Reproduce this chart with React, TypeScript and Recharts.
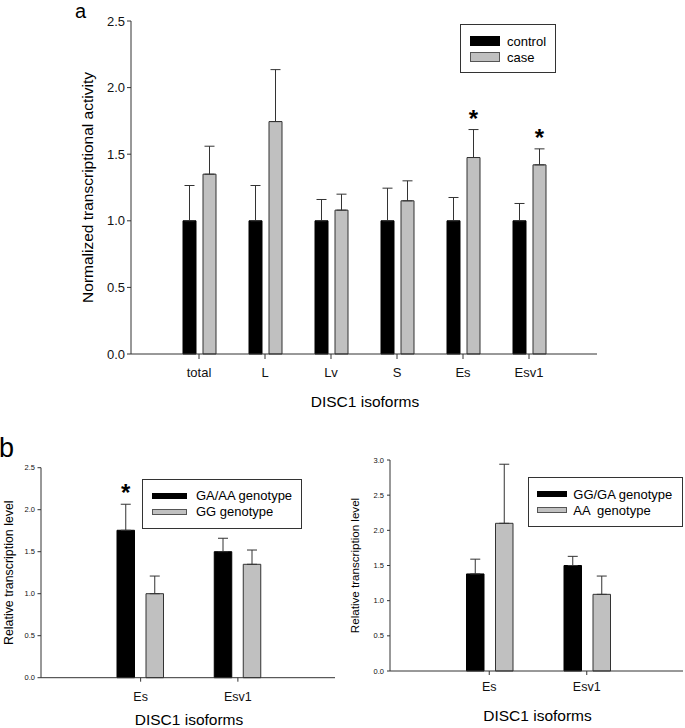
import React from 'react'
import { BarChart, Bar, XAxis, YAxis, ErrorBar, Legend, LabelList, Label } from 'recharts'

const FONT = '"Liberation Sans", Arial, Helvetica, sans-serif'
const BLACK = '#000000'
const GREY = '#c0c0c0'
const LINE = '#333333'

// panel a: control vs case
const isoformsA = ['total', 'L', 'Lv', 'S', 'Es', 'Esv1']
const controlMean = [1.0, 1.0, 1.0, 1.0, 1.0, 1.0]
const controlErr = [0.265, 0.265, 0.16, 0.245, 0.175, 0.13]
const caseMean = [1.35, 1.745, 1.08, 1.15, 1.475, 1.42]
const caseErr = [0.21, 0.39, 0.12, 0.15, 0.21, 0.12]
const caseSig = ['', '', '', '', '*', '*']
const ticksA = [0, 0.5, 1, 1.5, 2, 2.5]

// panel b, left: GA/AA vs GG
const isoformsB = ['Es', 'Esv1']
const gaAaMean = [1.755, 1.5]
const gaAaErr = [0.31, 0.16]
const gaAaSig = ['*', '']
const ggMean = [1.0, 1.35]
const ggErr = [0.21, 0.17]
const ticksBL = [0, 0.5, 1, 1.5, 2, 2.5]

// panel b, right: GG/GA vs AA
const ggGaMean = [1.38, 1.5]
const ggGaErr = [0.21, 0.13]
const aaMean = [2.1, 1.09]
const aaErr = [0.84, 0.26]
const ticksBR = [0, 0.5, 1, 1.5, 2, 2.5, 3]

const build = (cats: string[], m1: number[], e1: number[], m2: number[], e2: number[], sig1?: string[], sig2?: string[]) =>
  cats.map((name, i) => ({
    name,
    s1: m1[i],
    e1: [0, e1[i]],
    s2: m2[i],
    e2: [0, e2[i]],
    sig1: sig1 ? sig1[i] : '',
    sig2: sig2 ? sig2[i] : '',
  }))

const dataA = build(isoformsA, controlMean, controlErr, caseMean, caseErr, undefined, caseSig)
const dataBL = build(isoformsB, gaAaMean, gaAaErr, ggMean, ggErr, gaAaSig, undefined)
const dataBR = build(isoformsB, ggGaMean, ggGaErr, aaMean, aaErr)

// asterisk above the error bar cap
const star = (mean: number[], err: number[]) => (props: any) => {
  const { x, y, width, height, value, index } = props
  if (!value) return null
  const top = y + height - ((mean[index] + err[index]) / mean[index]) * height
  return (
    <text x={x + width / 2} y={top - 3} textAnchor="middle" fontSize={24} fontWeight="bold" fontFamily={FONT} fill="#000">
      {value}
    </text>
  )
}

const yTitle = (text: string, dx: number, size: number) => (props: any) => {
  const { x, y, height } = props.viewBox
  const cx = x + dx
  const cy = y + height / 2
  return (
    <text x={cx} y={cy} dy="0.35em" transform={`rotate(-90, ${cx}, ${cy})`} textAnchor="middle" fontSize={size} fontFamily={FONT} fill="#000">
      {text}
    </text>
  )
}

const xTitle = (text: string, dx: number, bottom: number, size: number) => (props: any) => {
  const { x, y, width, height } = props.viewBox
  return (
    <text x={x + width / 2 + dx} y={y + height - bottom} textAnchor="middle" fontSize={size} fontFamily={FONT} fill="#000">
      {text}
    </text>
  )
}

interface LegendCfg {
  left: number
  top: number
  width: number
  height: number
  swatchW: number
  swatchH: number
  gap: number
  pad: number
}

function LegendBox({ cfg, names }: { cfg: LegendCfg; names: string[] }) {
  const fills = [BLACK, GREY]
  return (
    <div
      style={{
        width: cfg.width,
        height: cfg.height,
        boxSizing: 'border-box',
        border: '1px solid #333',
        background: '#fff',
        paddingTop: 8,
        paddingLeft: cfg.pad,
        fontFamily: FONT,
        fontSize: 13,
        color: '#000',
      }}
    >
      {names.map((n, i) => (
        <div key={n} style={{ display: 'flex', alignItems: 'center', height: 16, whiteSpace: 'pre' }}>
          <span
            style={{
              display: 'inline-block',
              width: cfg.swatchW,
              height: cfg.swatchH,
              boxSizing: 'border-box',
              background: fills[i],
              border: `1px solid ${i === 0 ? BLACK : '#555'}`,
              marginRight: cfg.gap,
            }}
          />
          {n}
        </div>
      ))}
    </div>
  )
}

interface PanelProps {
  left: number
  top: number
  width: number
  height: number
  margin: { top: number; right: number; bottom: number; left: number }
  data: any[]
  names: string[]
  mean1: number[]
  err1: number[]
  mean2: number[]
  err2: number[]
  domain: [number, number]
  ticks: number[]
  yAxisWidth: number
  yTickSize: number
  yTickMargin: number
  yFont: number
  yLabel: string
  yLabelDx: number
  yLabelFont: number
  xHeight: number
  xPad: { left: number; right: number }
  xTickSize: number
  xTickMargin: number
  xFont: number
  xLabelDx: number
  xLabelBottom: number
  xLabelFont: number
  barSize: number
  barGap: number
  legend: LegendCfg
}

function Panel(p: PanelProps) {
  return (
    <div style={{ position: 'absolute', left: p.left, top: p.top }}>
      <BarChart width={p.width} height={p.height} data={p.data} margin={p.margin} barSize={p.barSize} barGap={p.barGap}>
        <XAxis
          dataKey="name"
          height={p.xHeight}
          padding={p.xPad}
          stroke={LINE}
          tickLine={{ stroke: LINE }}
          tickSize={p.xTickSize}
          tickMargin={p.xTickMargin}
          tick={{ fontSize: p.xFont, fill: '#111', fontFamily: FONT }}
        >
          <Label content={xTitle('DISC1 isoforms', p.xLabelDx, p.xLabelBottom, p.xLabelFont)} />
        </XAxis>
        <YAxis
          domain={p.domain}
          ticks={p.ticks}
          width={p.yAxisWidth}
          stroke={LINE}
          tickLine={{ stroke: LINE }}
          tickSize={p.yTickSize}
          tickMargin={p.yTickMargin}
          tickFormatter={(v: number) => v.toFixed(1)}
          tick={{ fontSize: p.yFont, fill: '#111', fontFamily: FONT }}
        >
          <Label content={yTitle(p.yLabel, p.yLabelDx, p.yLabelFont)} />
        </YAxis>
        <Legend
          layout="vertical"
          align="center"
          verticalAlign="middle"
          wrapperStyle={{ left: p.legend.left, top: p.legend.top, width: p.legend.width, height: p.legend.height }}
          content={() => <LegendBox cfg={p.legend} names={p.names} />}
        />
        <Bar dataKey="s1" name={p.names[0]} fill={BLACK} stroke={BLACK} strokeWidth={1} isAnimationActive={false}>
          <ErrorBar dataKey="e1" direction="y" width={5} stroke={LINE} strokeWidth={1} isAnimationActive={false} />
          <LabelList dataKey="sig1" content={star(p.mean1, p.err1)} />
        </Bar>
        <Bar dataKey="s2" name={p.names[1]} fill={GREY} stroke={LINE} strokeWidth={1} isAnimationActive={false}>
          <ErrorBar dataKey="e2" direction="y" width={5} stroke={LINE} strokeWidth={1} isAnimationActive={false} />
          <LabelList dataKey="sig2" content={star(p.mean2, p.err2)} />
        </Bar>
      </BarChart>
    </div>
  )
}

export default function App() {
  return (
    <div style={{ position: 'absolute', left: 0, top: 0, width: 685, height: 728, background: '#fff', fontFamily: FONT, overflow: 'hidden' }}>
      <div style={{ position: 'absolute', left: 75, top: 0, fontSize: 20, lineHeight: 'normal' }}>a</div>
      <div style={{ position: 'absolute', left: -1, top: 435.4, fontSize: 27, lineHeight: '27px' }}>b</div>

      <Panel
        left={0}
        top={0}
        width={685}
        height={420}
        margin={{ top: 21, right: 88, bottom: 10, left: 0 }}
        data={dataA}
        names={['control', 'case']}
        mean1={controlMean}
        err1={controlErr}
        mean2={caseMean}
        err2={caseErr}
        domain={[0, 2.5]}
        ticks={ticksA}
        yAxisWidth={131}
        yTickSize={4}
        yTickMargin={2}
        yFont={13}
        yLabel="Normalized transcriptional activity"
        yLabelDx={88}
        yLabelFont={15.5}
        xHeight={56}
        xPad={{ left: 35, right: 35 }}
        xTickSize={5}
        xTickMargin={9}
        xFont={13}
        xLabelDx={1}
        xLabelBottom={3.5}
        xLabelFont={15.5}
        barSize={13}
        barGap={7}
        legend={{ left: 460, top: 24, width: 96, height: 49, swatchW: 30, swatchH: 10, gap: 7, pad: 9 }}
      />

      <Panel
        left={0}
        top={440}
        width={340}
        height={288}
        margin={{ top: 27.7, right: 5, bottom: 0, left: 0 }}
        data={dataBL}
        names={['GA/AA genotype', 'GG genotype']}
        mean1={gaAaMean}
        err1={gaAaErr}
        mean2={ggMean}
        err2={ggErr}
        domain={[0, 2.5]}
        ticks={ticksBL}
        yAxisWidth={41}
        yTickSize={3.5}
        yTickMargin={2.5}
        yFont={7.5}
        yLabel="Relative transcription level"
        yLabelDx={9}
        yLabelFont={12.4}
        xHeight={50.3}
        xPad={{ left: 51, right: 48.5 }}
        xTickSize={4}
        xTickMargin={10}
        xFont={12.5}
        xLabelDx={1}
        xLabelBottom={3}
        xLabelFont={15.5}
        barSize={17.5}
        barGap={11.5}
        legend={{ left: 141.7, top: 38.7, width: 160, height: 50, swatchW: 35.6, swatchH: 6, gap: 8.7, pad: 9 }}
      />

      <Panel
        left={340}
        top={440}
        width={345}
        height={288}
        margin={{ top: 20, right: 2, bottom: 0, left: 0 }}
        data={dataBR}
        names={['GG/GA genotype', 'AA  genotype']}
        mean1={ggGaMean}
        err1={ggGaErr}
        mean2={aaMean}
        err2={aaErr}
        domain={[0, 3]}
        ticks={ticksBR}
        yAxisWidth={50}
        yTickSize={3}
        yTickMargin={3}
        yFont={7.5}
        yLabel="Relative transcription level"
        yLabelDx={15}
        yLabelFont={11.6}
        xHeight={57}
        xPad={{ left: 50.5, right: 47.5 }}
        xTickSize={4}
        xTickMargin={7}
        xFont={12.5}
        xLabelDx={1}
        xLabelBottom={7.5}
        xLabelFont={15.5}
        barSize={17.5}
        barGap={11.5}
        legend={{ left: 187.7, top: 37.3, width: 155.6, height: 50, swatchW: 29.4, swatchH: 6, gap: 6.6, pad: 8.6 }}
      />
    </div>
  )
}
